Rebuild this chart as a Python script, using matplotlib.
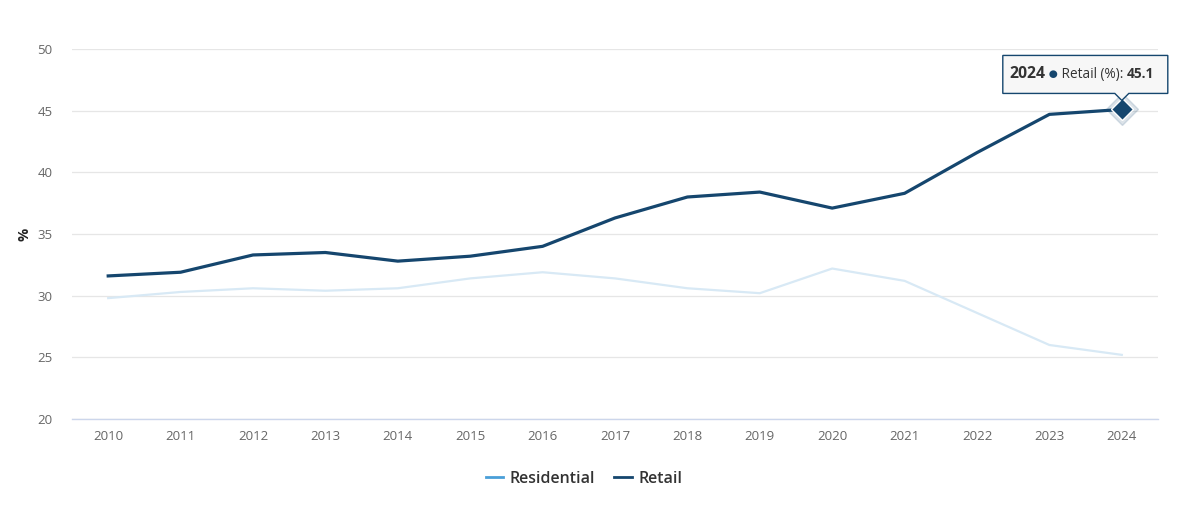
import matplotlib.pyplot as plt
import matplotlib.transforms as mtransforms
from matplotlib.lines import Line2D
from matplotlib.patches import Polygon

plt.rcParams['font.family'] = ['Open Sans', 'DejaVu Sans']

# Data
years = [2010, 2011, 2012, 2013, 2014, 2015, 2016, 2017, 2018, 2019, 2020, 2021, 2022, 2023, 2024]
residential = [29.8, 30.3, 30.6, 30.4, 30.6, 31.4, 31.9, 31.4, 30.6, 30.2, 32.2, 31.2, 28.6, 26.0, 25.2]
retail = [31.6, 31.9, 33.3, 33.5, 32.8, 33.2, 34.0, 36.3, 38.0, 38.4, 37.1, 38.3, 41.6, 44.7, 45.1]
series_names = ["Residential", "Retail"]
yticks = [20, 25, 30, 35, 40, 45, 50]

res_color = "#4a9fd8"
res_faded = "#d8e9f5"
ret_color = "#15466e"

fig = plt.figure(figsize=(11.77, 5.05), dpi=100)
ax = fig.add_axes([72 / 1177, 1 - 419 / 505, (1158 - 72) / 1177, (419 - 49) / 505])

x = list(range(len(years)))
ax.plot(x, residential, color=res_faded, lw=1.6, solid_joinstyle="round", zorder=2)
ax.plot(x, retail, color=ret_color, lw=2.3, solid_joinstyle="round", zorder=3)

# hovered point
last = len(years) - 1
ax.plot(last, retail[last], marker="D", ms=16, color=ret_color, alpha=0.15, zorder=4, clip_on=False)
ax.plot(last, retail[last], marker="D", ms=11, color=ret_color, mec="white", mew=1, zorder=5, clip_on=False)

ax.set_xlim(-0.5, len(years) - 0.5)
ax.set_ylim(20, 50)
ax.set_yticks(yticks)
ax.set_xticks(x)
ax.set_xticklabels([str(y) for y in years])
ax.tick_params(axis="both", length=0, labelsize=9.5, labelcolor="#666666")
ax.tick_params(axis="x", pad=8)
ax.tick_params(axis="y", pad=14)
ax.grid(axis="y", color="#e6e6e6", lw=0.9)
ax.set_axisbelow(True)
for s in ["top", "right", "left"]:
    ax.spines[s].set_visible(False)
ax.spines["bottom"].set_color("#ccd6eb")
ax.spines["bottom"].set_linewidth(1)
ax.set_ylabel("%", fontsize=10.5, fontweight="bold", color="#222222", labelpad=4)

# tooltip, placed relative to the hovered point (offsets in pixels)
def off(dx, dy):
    return mtransforms.offset_copy(ax.transData, fig=fig, x=dx, y=dy, units="dots")

px, py = last, retail[last]
fig.canvas.draw()
pt = ax.transData.transform((px, py))
verts = [(-119, 16), (-7, 16), (0, 9), (7, 16), (46, 16), (46, 54), (-119, 54)]
tip = Polygon([(pt[0] + vx, pt[1] + vy) for vx, vy in verts], closed=True,
              transform=mtransforms.IdentityTransform(),
              facecolor="#f7f7f7", edgecolor=ret_color, lw=1, zorder=6, clip_on=False)
ax.add_patch(tip)

t1 = ax.text(px, py, str(years[last]), transform=off(-112, 35), fontsize=11.3, fontweight="bold",
             color="#333333", va="center", ha="left", zorder=7, clip_on=False)
t2 = ax.annotate(" \u25cf", xy=(1, 0.5), xycoords=t1, va="center", ha="left",
                 fontsize=7.5, color=ret_color, zorder=7)
t3 = ax.annotate(" Retail (%): ", xy=(1, 0.5), xycoords=t2, va="center", ha="left",
                 fontsize=9.8, color="#333333", zorder=7)
t4 = ax.annotate("45.1", xy=(1, 0.5), xycoords=t3, va="center", ha="left",
                 fontsize=9.8, fontweight="bold", color="#333333", zorder=7)

# legend
handles = [Line2D([0], [0], color=res_color, lw=2), Line2D([0], [0], color=ret_color, lw=2)]
fig.legend(handles, series_names, loc="center", bbox_to_anchor=(0.496, 0.052), ncol=2, frameon=False,
           prop={"size": 11.5, "weight": "semibold"}, handlelength=1.1, handletextpad=0.4,
           columnspacing=1.2, labelcolor="#333333")

fig.savefig("out.png", dpi=100)
